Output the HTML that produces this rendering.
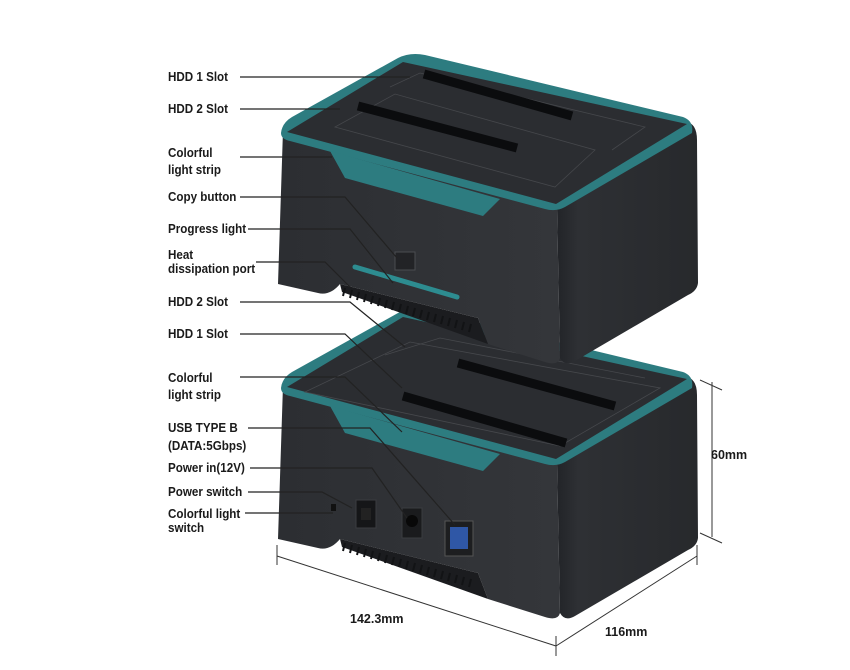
<!DOCTYPE html>
<html><head><meta charset="utf-8"><style>
html,body{margin:0;padding:0;background:#fff;}
svg{display:block}
text{font-family:"Liberation Sans",Arial,sans-serif;font-weight:bold;font-size:12.5px;fill:#1a1a1a}
</style></head><body>
<svg width="850" height="670" viewBox="0 0 850 670" xmlns="http://www.w3.org/2000/svg">
<defs>
<linearGradient id="lf" x1="0" y1="0" x2="1" y2="0"><stop offset="0" stop-color="#2c2e32"/><stop offset="1" stop-color="#34363a"/></linearGradient>
<linearGradient id="rf" x1="0" y1="0" x2="1" y2="0"><stop offset="0" stop-color="#222428"/><stop offset="0.15" stop-color="#2e3034"/><stop offset="1" stop-color="#27292c"/></linearGradient>
<g id="body">
  <path d="M283,130 L557,207 L560,358 Q558,366 545,362 L488,344 L478,318 L340,284 Q330,296 318,293 L278,284 Z" fill="url(#lf)"/>
  <path d="M340,284 L478,318 L488,344 L342,292 Z" fill="#1b1c1f"/>
  <path d="M557,207 L690,123 Q697,127 697,140 L698,283 Q697,291 688,295 L575,361 Q565,367 560,358 Z" fill="url(#rf)"/>
  <path d="M281,133 Q282,123 292,117 L398,58 Q410,52 425,55 L683,117 Q694,121 692,133 L565,207 Q556,212 545,209 L290,141 Q281,139 281,133Z" fill="#2d7c80"/>
  <path d="M287,132 L403,62 L687,124 L556,204 Z" fill="#2b2d31"/>
  <path d="M330,151 L500,199 L483,216 L345,178 Z" fill="#2d7c80"/>
  <g stroke="#121315" stroke-width="2">
    <path d="M345,288 l-2,8 M352,290 l-2,8 M359,292 l-2,8 M366,294 l-2,8 M373,296 l-2,8 M380,298 l-2,8 M387,300 l-2,8 M394,302 l-2,8 M401,304 l-2,8 M408,306 l-2,8 M415,308 l-2,8 M422,310 l-2,8 M429,312 l-2,8 M436,314 l-2,8 M443,316 l-2,8 M450,318 l-2,8 M457,320 l-2,8 M464,322 l-2,8 M471,324 l-2,8"/>
  </g>
</g>
</defs>

<!-- ===== BOTTOM DEVICE ===== -->
<use href="#body" transform="translate(0,255)"/>
<g>
  <path d="M305,392 L410,342 L660,388 L560,446 Z" fill="none" stroke="#46484c" stroke-width="0.8"/>
  <path d="M385,355 L440,338 L645,378" fill="none" stroke="#46484c" stroke-width="0.8"/>
  <path d="M458,363 L615,406" stroke="#0b0c0e" stroke-width="9"/>
  <path d="M403,396 L566,443" stroke="#0b0c0e" stroke-width="9"/>
  <rect x="331" y="504" width="5" height="7" fill="#111"/>
  <rect x="356" y="500" width="20" height="28" fill="#151618" stroke="#3a3c40"/>
  <rect x="361" y="508" width="10" height="12" fill="#222"/>
  <rect x="402" y="508" width="20" height="30" fill="#1a1b1d" stroke="#3a3c40"/>
  <circle cx="412" cy="521" r="6" fill="#080808"/>
  <rect x="445" y="521" width="28" height="35" fill="#1d1e20" stroke="#555"/>
  <rect x="450" y="527" width="18" height="22" fill="#2f57a6"/>
</g>

<!-- ===== TOP DEVICE ===== -->
<use href="#body"/>
<g>
  <path d="M335,127 L395,94 L595,150 L555,187 Z" fill="none" stroke="#45474b" stroke-width="0.8"/>
  <path d="M390,87 L420,73 L645,127 L612,150" fill="none" stroke="#45474b" stroke-width="0.8"/>
  <path d="M424,74 L572,116" stroke="#0b0c0e" stroke-width="9"/>
  <path d="M358,106 L517,148" stroke="#0b0c0e" stroke-width="9"/>
  <rect x="395" y="252" width="20" height="18" fill="#222326" stroke="#4a4c50"/>
  <path d="M355,267 L457,297" stroke="#2d8c90" stroke-width="5" stroke-linecap="round"/>
</g>

<!-- ===== LEADER LINES ===== -->
<g fill="none" stroke="#222" stroke-width="1.2">
  <path d="M240,77 H410"/>
  <path d="M240,109 H340"/>
  <path d="M240,157 H332"/>
  <path d="M240,197 H345 L397,258"/>
  <path d="M248,229 H350 L393,283"/>
  <path d="M256,262 H325 L350,287"/>
  <path d="M240,302 H350 L405,347"/>
  <path d="M240,334 H345 L402,388"/>
  <path d="M240,377 H345 L402,432"/>
  <path d="M248,428 H370 L455,525"/>
  <path d="M250,468 H372 L407,518"/>
  <path d="M248,492 H322 L352,508"/>
  <path d="M245,513 H333"/>
</g>

<!-- ===== DIMENSIONS ===== -->
<g fill="none" stroke="#333" stroke-width="1">
  <path d="M712,382 V537"/>
  <path d="M700,380 L722,390 M700,533 L722,543"/>
  <path d="M277,556 L556,646"/>
  <path d="M277,545 V565 M556,636 V656"/>
  <path d="M556,646 L697,556"/>
  <path d="M697,545 V565"/>
</g>

<!-- ===== LABELS ===== -->
<g transform="translate(168,0) scale(0.93,1) translate(-168,0)">
  <text x="168" y="81">HDD 1 Slot</text>
  <text x="168" y="113">HDD 2 Slot</text>
  <text x="168" y="157">Colorful</text>
  <text x="168" y="174">light strip</text>
  <text x="168" y="201">Copy button</text>
  <text x="168" y="233">Progress light</text>
  <text x="168" y="259">Heat</text>
  <text x="168" y="273" font-size="12">dissipation port</text>
  <text x="168" y="306">HDD 2 Slot</text>
  <text x="168" y="338">HDD 1 Slot</text>
  <text x="168" y="382">Colorful</text>
  <text x="168" y="399">light strip</text>
  <text x="168" y="432">USB TYPE B</text>
  <text x="168" y="450">(DATA:5Gbps)</text>
  <text x="168" y="472">Power in(12V)</text>
  <text x="168" y="496">Power switch</text>
  <text x="168" y="518">Colorful light</text>
  <text x="168" y="532">switch</text>
</g>
<text x="711" y="459">60mm</text>
<text x="350" y="623">142.3mm</text>
<text x="605" y="636">116mm</text>
</svg>
</body></html>
